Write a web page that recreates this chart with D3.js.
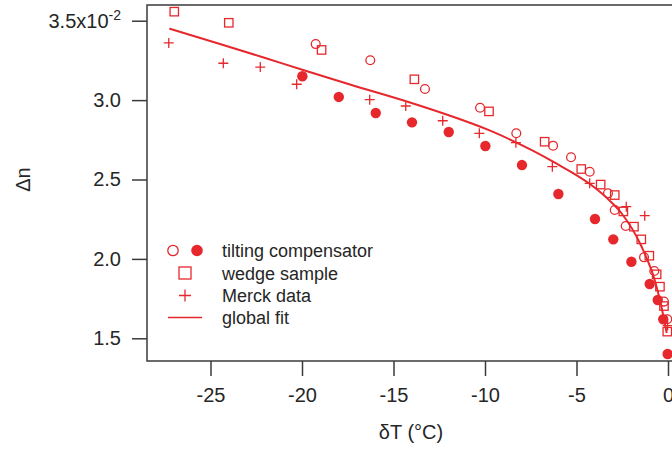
<!DOCTYPE html>
<html>
<head>
<meta charset="utf-8">
<script src="https://cdn.jsdelivr.net/npm/d3@7"></script>
<style>
  body { margin: 0; background: #fff; }
  svg { display: block; }
  text { font-family: "Liberation Sans", Arial, Helvetica, sans-serif; fill: #262626; }
</style>
</head>
<body>
<div id="wrapper"></div>
<script>
// tilting compensator, open symbols
const tiltOpenT  = [-19.25, -16.27, -13.28, -10.27, -8.29, -6.28, -5.30, -4.28, -3.28, -2.91, -2.31, -1.31, -0.75, -0.22, -0.04]
const tiltOpenDn = [3.353, 3.251, 3.070, 2.952, 2.791, 2.713, 2.640, 2.549, 2.413, 2.308, 2.207, 2.010, 1.924, 1.731, 1.620]
// tilting compensator, filled symbols
const tiltFillT  = [-19.98, -17.99, -15.97, -13.99, -11.98, -9.98, -7.98, -5.99, -3.99, -2.99, -2.00, -1.00, -0.56, -0.26, -0.02]
const tiltFillDn = [3.150, 3.020, 2.919, 2.860, 2.799, 2.711, 2.591, 2.409, 2.251, 2.123, 1.982, 1.842, 1.741, 1.620, 1.401]
// wedge sample
const wedgeT  = [-26.98, -24.00, -18.93, -13.86, -9.78, -6.74, -4.74, -3.68, -2.91, -2.44, -1.86, -1.46, -1.02, -0.62, -0.44, -0.22, -0.04]
const wedgeDn = [3.557, 3.487, 3.316, 3.131, 2.929, 2.738, 2.566, 2.468, 2.402, 2.299, 2.203, 2.123, 2.020, 1.903, 1.825, 1.703, 1.542]
// Merck data
const merckT  = [-27.28, -24.30, -22.28, -20.29, -16.30, -14.33, -12.31, -10.31, -8.31, -6.32, -4.28, -2.28, -1.27, -0.02]
const merckDn = [3.360, 3.232, 3.208, 3.100, 3.003, 2.963, 2.870, 2.791, 2.732, 2.581, 2.476, 2.329, 2.272, 1.580]
// global fit
const fitT  = [-27.25, -24.66, -21.04, -17.38, -14.10, -12.02, -9.75, -7.47, -6.28, -4.19, -3.28, -2.55, -1.46, -0.73, -0.44, -0.07]
const fitDn = [3.450, 3.360, 3.230, 3.098, 2.985, 2.906, 2.809, 2.686, 2.612, 2.465, 2.377, 2.289, 2.081, 1.867, 1.741, 1.533]

const xTicks = [-25, -20, -15, -10, -5, 0]
const yTicks = [1.5, 2.0, 2.5, 3.0, 3.5]
const legendLabels = ["tilting compensator", "wedge sample", "Merck data", "global fit"]

const red = "#e6282d"
const axisColor = "#3a3a3a"

const width = 672
let dimensions = {
  width: width,
  height: 449,
  margin: { top: 5, left: 147, bottom: 88 },
}
dimensions.boundedHeight = dimensions.height - dimensions.margin.top - dimensions.margin.bottom

const zip = (xs, ys) => xs.map((x, i) => ({ x: x, y: ys[i] }))

const svg = d3.select("#wrapper")
  .append("svg")
  .attr("width", dimensions.width)
  .attr("height", dimensions.height)

const xScaler = d3.scaleLinear()
  .domain([-28.47, 1])
  .range([dimensions.margin.left, 686.3])

const yScaler = d3.scaleLinear()
  .domain([1.357, 3.599])
  .range([dimensions.margin.top + dimensions.boundedHeight, dimensions.margin.top])

// axes
const xAxisGenerator = d3.axisBottom(xScaler)
  .tickValues(xTicks)
  .tickFormat(d => String(d))
  .tickSize(15)
  .tickSizeOuter(0)
  .tickPadding(12)

const yAxisGenerator = d3.axisLeft(yScaler)
  .tickValues(yTicks)
  .tickFormat(d => d.toFixed(1))
  .tickSize(15)
  .tickSizeOuter(0)
  .tickPadding(11)

const xAxis = svg.append("g")
  .attr("transform", `translate(0,${yScaler.range()[0]})`)
  .call(xAxisGenerator)
const yAxis = svg.append("g")
  .attr("transform", `translate(${xScaler.range()[0]},0)`)
  .call(yAxisGenerator)

for (const ax of [xAxis, yAxis]) {
  ax.select(".domain").remove()
  ax.selectAll(".tick line").attr("stroke", axisColor).attr("stroke-width", 1.5)
  ax.selectAll(".tick text")
    .style("font-family", "'Liberation Sans', Arial, sans-serif")
    .style("font-size", "20px")
    .attr("fill", "#262626")
}

// exponent on the top tick label
yAxis.selectAll(".tick text")
  .filter(d => d === 3.5)
  .text(null)
  .call(t => {
    t.append("tspan").text("3.5x10")
    t.append("tspan").text("-2").attr("font-size", "14px").attr("dy", "-0.55em")
  })

// frame
svg.append("rect")
  .attr("x", xScaler.range()[0])
  .attr("y", yScaler.range()[1])
  .attr("width", xScaler.range()[1] - xScaler.range()[0])
  .attr("height", yScaler.range()[0] - yScaler.range()[1])
  .attr("fill", "none")
  .attr("stroke", axisColor)
  .attr("stroke-width", 1.5)

// axis titles
svg.append("text")
  .attr("transform", `translate(30,${yScaler(2.5)}) rotate(-90)`)
  .attr("text-anchor", "middle")
  .style("font-size", "20px")
  .text("Δn")

svg.append("text")
  .attr("x", 411)
  .attr("y", 439)
  .attr("text-anchor", "middle")
  .style("font-size", "20px")
  .text("δT (°C)")

// marks
const bounds = svg.append("g")

const lineGenerator = d3.line()
  .x(d => xScaler(d.x))
  .y(d => yScaler(d.y))
  .curve(d3.curveMonotoneX)

bounds.append("path")
  .attr("d", lineGenerator(zip(fitT, fitDn)))
  .attr("fill", "none")
  .attr("stroke", red)
  .attr("stroke-width", 2)

const plusPath = s => `M${-s},0H${s}M0,${-s}V${s}`

bounds.selectAll(".merck")
  .data(zip(merckT, merckDn))
  .join("path")
  .attr("class", "merck")
  .attr("transform", d => `translate(${xScaler(d.x)},${yScaler(d.y)})`)
  .attr("d", plusPath(5))
  .attr("stroke", red)
  .attr("stroke-width", 1.3)
  .attr("fill", "none")

bounds.selectAll(".wedge")
  .data(zip(wedgeT, wedgeDn))
  .join("rect")
  .attr("class", "wedge")
  .attr("x", d => xScaler(d.x) - 4.2)
  .attr("y", d => yScaler(d.y) - 4.2)
  .attr("width", 8.4)
  .attr("height", 8.4)
  .attr("fill", "none")
  .attr("stroke", red)
  .attr("stroke-width", 1.3)

bounds.selectAll(".tilt-open")
  .data(zip(tiltOpenT, tiltOpenDn))
  .join("circle")
  .attr("class", "tilt-open")
  .attr("cx", d => xScaler(d.x))
  .attr("cy", d => yScaler(d.y))
  .attr("r", 4.4)
  .attr("fill", "none")
  .attr("stroke", red)
  .attr("stroke-width", 1.3)

bounds.selectAll(".tilt-fill")
  .data(zip(tiltFillT, tiltFillDn))
  .join("circle")
  .attr("class", "tilt-fill")
  .attr("cx", d => xScaler(d.x))
  .attr("cy", d => yScaler(d.y))
  .attr("r", 5.2)
  .attr("fill", red)

// legend
const legend = svg.append("g")
const rowY = [250.5, 273, 295.5, 317.5]

legend.selectAll("text")
  .data(legendLabels)
  .join("text")
  .attr("x", 222)
  .attr("y", (d, i) => rowY[i] + 6.5)
  .style("font-size", "18px")
  .text(d => d)

legend.append("circle")
  .attr("cx", 173).attr("cy", rowY[0]).attr("r", 5.2)
  .attr("fill", "none").attr("stroke", red).attr("stroke-width", 1.3)
legend.append("circle")
  .attr("cx", 197).attr("cy", rowY[0]).attr("r", 5.8)
  .attr("fill", red)
legend.append("rect")
  .attr("x", 185 - 6).attr("y", rowY[1] - 6).attr("width", 12).attr("height", 12)
  .attr("fill", "none").attr("stroke", red).attr("stroke-width", 1.3)
legend.append("path")
  .attr("transform", `translate(185,${rowY[2]})`)
  .attr("d", plusPath(6))
  .attr("stroke", red).attr("stroke-width", 1.3)
legend.append("line")
  .attr("x1", 168).attr("x2", 202)
  .attr("y1", rowY[3]).attr("y2", rowY[3])
  .attr("stroke", red).attr("stroke-width", 1.5)
</script>
</body>
</html>
